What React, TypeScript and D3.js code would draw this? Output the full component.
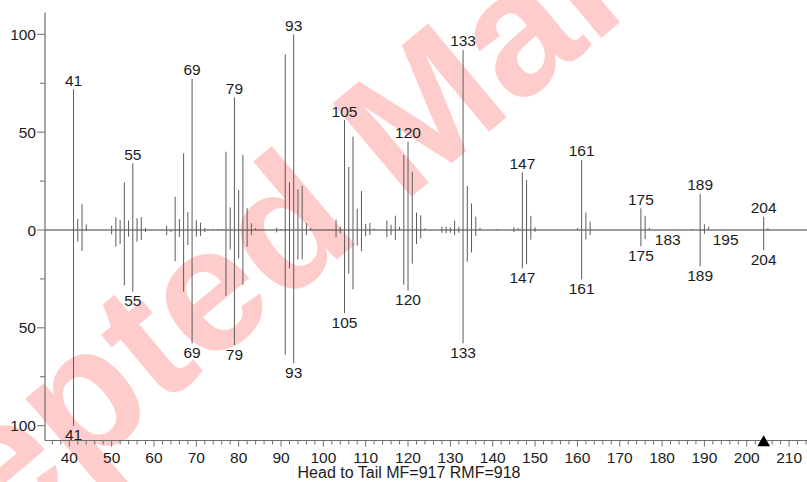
import React from "react";
import * as d3 from "d3";

// Head (library/unknown) spectrum: m/z and relative abundance
const HEAD_MZ = [41, 42, 43, 44, 50, 51, 52, 53, 54, 55, 56, 57, 58, 63, 65, 66, 67, 68, 69, 70, 71, 72, 74, 75, 76, 77, 78, 79, 80, 81, 82, 83, 84, 89, 90, 91, 92, 93, 94, 95, 96, 97, 103, 104, 105, 106, 107, 108, 109, 110, 111, 112, 115, 116, 117, 118, 119, 120, 121, 122, 123, 124, 128, 129, 130, 131, 132, 133, 134, 135, 136, 137, 141, 145, 146, 147, 148, 149, 150, 160, 161, 162, 163, 175, 176, 177, 187, 189, 190, 191, 204, 205];
const HEAD_ABUND = [72, 5.6, 13.4, 2.9, 2.2, 6.5, 5.1, 24.4, 4.8, 34.1, 6.0, 6.6, 1.0, 2.2, 17.0, 5.6, 39.2, 9.2, 77.3, 5.0, 3.8, 1.0, 0.5, 0.5, 0.5, 40.0, 11.6, 67.8, 20.4, 38.4, 11.1, 3.5, 1.0, 1.2, 0.5, 89.8, 24.3, 100, 20.8, 22.5, 3.5, 1.0, 5.3, 1.7, 56.2, 32.2, 47.7, 10.9, 19.9, 3.1, 3.7, 0.8, 4.8, 2.6, 7.3, 1.7, 38.3, 45.1, 29.8, 8.9, 7.5, 0.8, 1.7, 1.7, 1.4, 4.8, 1.7, 92, 22.5, 13.6, 6.8, 1.2, 0.5, 1.4, 1.0, 29.5, 25.5, 7.2, 1.4, 1.0, 35.8, 8.9, 4.3, 11.1, 7.2, 1.0, 0.5, 18.4, 2.9, 1.7, 6.8, 1.0];

// Tail (reference) spectrum, drawn downward
const TAIL_MZ = [41, 42, 43, 44, 50, 51, 52, 53, 54, 55, 56, 57, 58, 63, 64, 65, 66, 67, 68, 69, 70, 71, 72, 77, 78, 79, 80, 81, 82, 83, 89, 91, 92, 93, 94, 95, 96, 103, 104, 105, 106, 107, 108, 109, 110, 111, 115, 116, 117, 119, 120, 121, 122, 123, 128, 129, 130, 131, 132, 133, 134, 135, 136, 145, 147, 148, 149, 150, 161, 162, 163, 175, 176, 183, 189, 190, 195, 204];
const TAIL_ABUND = [100, 6.0, 10.7, 0.5, 2.2, 8.5, 7.2, 28.3, 3.4, 31.5, 6.0, 5.1, 1.0, 2.6, 1.0, 16.0, 3.6, 31.5, 7.7, 57.9, 3.4, 3.0, 1.0, 33.7, 10.0, 58.8, 14.5, 28.1, 8.5, 2.6, 1.2, 63.7, 19.6, 68.1, 15.1, 15.1, 2.6, 3.7, 1.7, 42.5, 22.3, 30.3, 8.0, 10.8, 3.1, 2.6, 3.7, 2.6, 5.1, 28.0, 31.0, 17.2, 7.2, 4.3, 1.4, 1.7, 1.4, 2.6, 1.4, 57.9, 16.2, 11.5, 3.1, 1.0, 19.6, 17.5, 4.9, 0.9, 25.2, 4.8, 2.6, 8.4, 4.6, 0.3, 18.6, 2.0, 0.3, 10.2];

const HEAD_LABELED = [41, 55, 69, 79, 93, 105, 120, 133, 147, 161, 175, 189, 204];
const TAIL_LABELED = [41, 55, 69, 79, 93, 105, 120, 133, 147, 161, 175, 183, 189, 195, 204];

const X_TICK_LABELS = [40, 50, 60, 70, 80, 90, 100, 110, 120, 130, 140, 150, 160, 170, 180, 190, 200, 210];
const Y_TICK_LABELS = [0, 50, 100];
const MOLECULAR_ION = 204;
const TITLE = "Head to Tail MF=917 RMF=918";
const WATERMARK = "Accepted Manuscript";

const FONT = "'Liberation Sans', Arial, Helvetica, sans-serif";

export default function App() {
  const W = 807;
  const H = 482;
  const axisX = 45;
  const axisTop = 12.5;
  const axisBottom = 440.5;

  const x = d3.scaleLinear().domain([40, 210]).range([69.3, 789.1]);
  const yHead = d3.scaleLinear().domain([0, 100]).range([230, 34.3]);
  const yTail = d3.scaleLinear().domain([0, 100]).range([230, 425.7]);
  const zeroY = yHead(0);

  const head = HEAD_MZ.map((m, i) => ({ m, v: HEAD_ABUND[i] }));
  const tail = TAIL_MZ.map((m, i) => ({ m, v: TAIL_ABUND[i] }));

  const xTicks = d3.range(36, 216, 2).filter((t) => x(t) >= axisX && x(t) <= W);
  const yMinor = [25, 50, 75, 100];

  const tri = d3.symbol().type(d3.symbolTriangle).size(70)();

  const labelSize = 15.5;
  const axisColor = "#6e6e6e";
  const textColor = "#1c1c1c";
  const peakColor = "#5c5c5c";

  // watermark placement: pivot near the "M", rotated along the diagonal
  const wmSize = 178;
  const wmCx = 418;
  const wmCy = 108;

  return (
    <div style={{ position: "absolute", left: 0, top: 0 }}>
      <svg width={W} height={H} style={{ display: "block", background: "#fff" }} fontFamily={FONT}>
        {/* watermark */}
        <text
          x={wmCx - 0.14 * wmSize}
          y={wmCy + 0.36 * wmSize}
          transform={`rotate(-40 ${wmCx} ${wmCy})`}
          textAnchor="middle"
          fontSize={wmSize}
          fontWeight="bold"
          fill="#ff0000"
          fillOpacity={0.2}
        >
          {WATERMARK}
        </text>

        {/* axes */}
        <line x1={axisX} x2={axisX} y1={axisTop} y2={axisBottom} stroke={axisColor} strokeWidth={1.2} />
        <line x1={axisX} x2={W} y1={axisBottom} y2={axisBottom} stroke={axisColor} strokeWidth={1.2} />
        <line x1={axisX} x2={W} y1={zeroY} y2={zeroY} stroke="#3a3a3a" strokeWidth={1} />

        {/* y ticks, head side */}
        {[0, 25, 50, 75, 100].map((t) => (
          <line key={"yh" + t} x1={axisX - (t % 50 === 0 ? 8 : 5)} x2={axisX} y1={yHead(t)} y2={yHead(t)} stroke={axisColor} />
        ))}
        {/* y ticks, tail side */}
        {yMinor.map((t) => (
          <line key={"yt" + t} x1={axisX - (t % 50 === 0 ? 8 : 5)} x2={axisX} y1={yTail(t)} y2={yTail(t)} stroke={axisColor} />
        ))}
        {Y_TICK_LABELS.map((t) => (
          <text key={"lh" + t} x={axisX - 9} y={yHead(t)} dy="0.36em" textAnchor="end" fontSize={labelSize} fill={textColor}>
            {t}
          </text>
        ))}
        {Y_TICK_LABELS.filter((t) => t > 0).map((t) => (
          <text key={"lt" + t} x={axisX - 9} y={yTail(t)} dy="0.36em" textAnchor="end" fontSize={labelSize} fill={textColor}>
            {t}
          </text>
        ))}

        {/* x ticks */}
        {xTicks.map((t) => (
          <line key={"xt" + t} x1={x(t)} x2={x(t)} y1={axisBottom} y2={axisBottom + (t % 10 === 0 ? 6 : 4)} stroke={axisColor} />
        ))}
        {X_TICK_LABELS.map((t) => (
          <text key={"xl" + t} x={x(t)} y={463} textAnchor="middle" fontSize={labelSize} fill={textColor}>
            {t}
          </text>
        ))}
        <path d={tri} transform={`translate(${x(MOLECULAR_ION)},${axisBottom + 2})`} fill="#000" />

        {/* head peaks */}
        {head.map((d) => (
          <line key={"hp" + d.m} x1={x(d.m)} x2={x(d.m)} y1={zeroY} y2={yHead(d.v)} stroke={peakColor} strokeWidth={1} />
        ))}
        {/* tail peaks */}
        {tail.map((d) => (
          <line key={"tp" + d.m} x1={x(d.m)} x2={x(d.m)} y1={zeroY} y2={yTail(d.v)} stroke={peakColor} strokeWidth={1} />
        ))}

        {/* peak labels */}
        {head
          .filter((d) => HEAD_LABELED.includes(d.m))
          .map((d) => (
            <text key={"hl" + d.m} x={x(d.m)} y={yHead(d.v) - 3.5} textAnchor="middle" fontSize={labelSize} fill={textColor}>
              {d.m}
            </text>
          ))}
        {tail
          .filter((d) => TAIL_LABELED.includes(d.m))
          .map((d) => (
            <text
              key={"tl" + d.m}
              x={x(d.m) + (d.m === 183 ? -7 : 0)}
              y={yTail(d.v) + 3.5}
              dy="0.72em"
              textAnchor="middle"
              fontSize={labelSize}
              fill={textColor}
            >
              {d.m}
            </text>
          ))}

        <text x={409} y={477.5} textAnchor="middle" fontSize={16} fill={textColor}>
          {TITLE}
        </text>
      </svg>
    </div>
  );
}
